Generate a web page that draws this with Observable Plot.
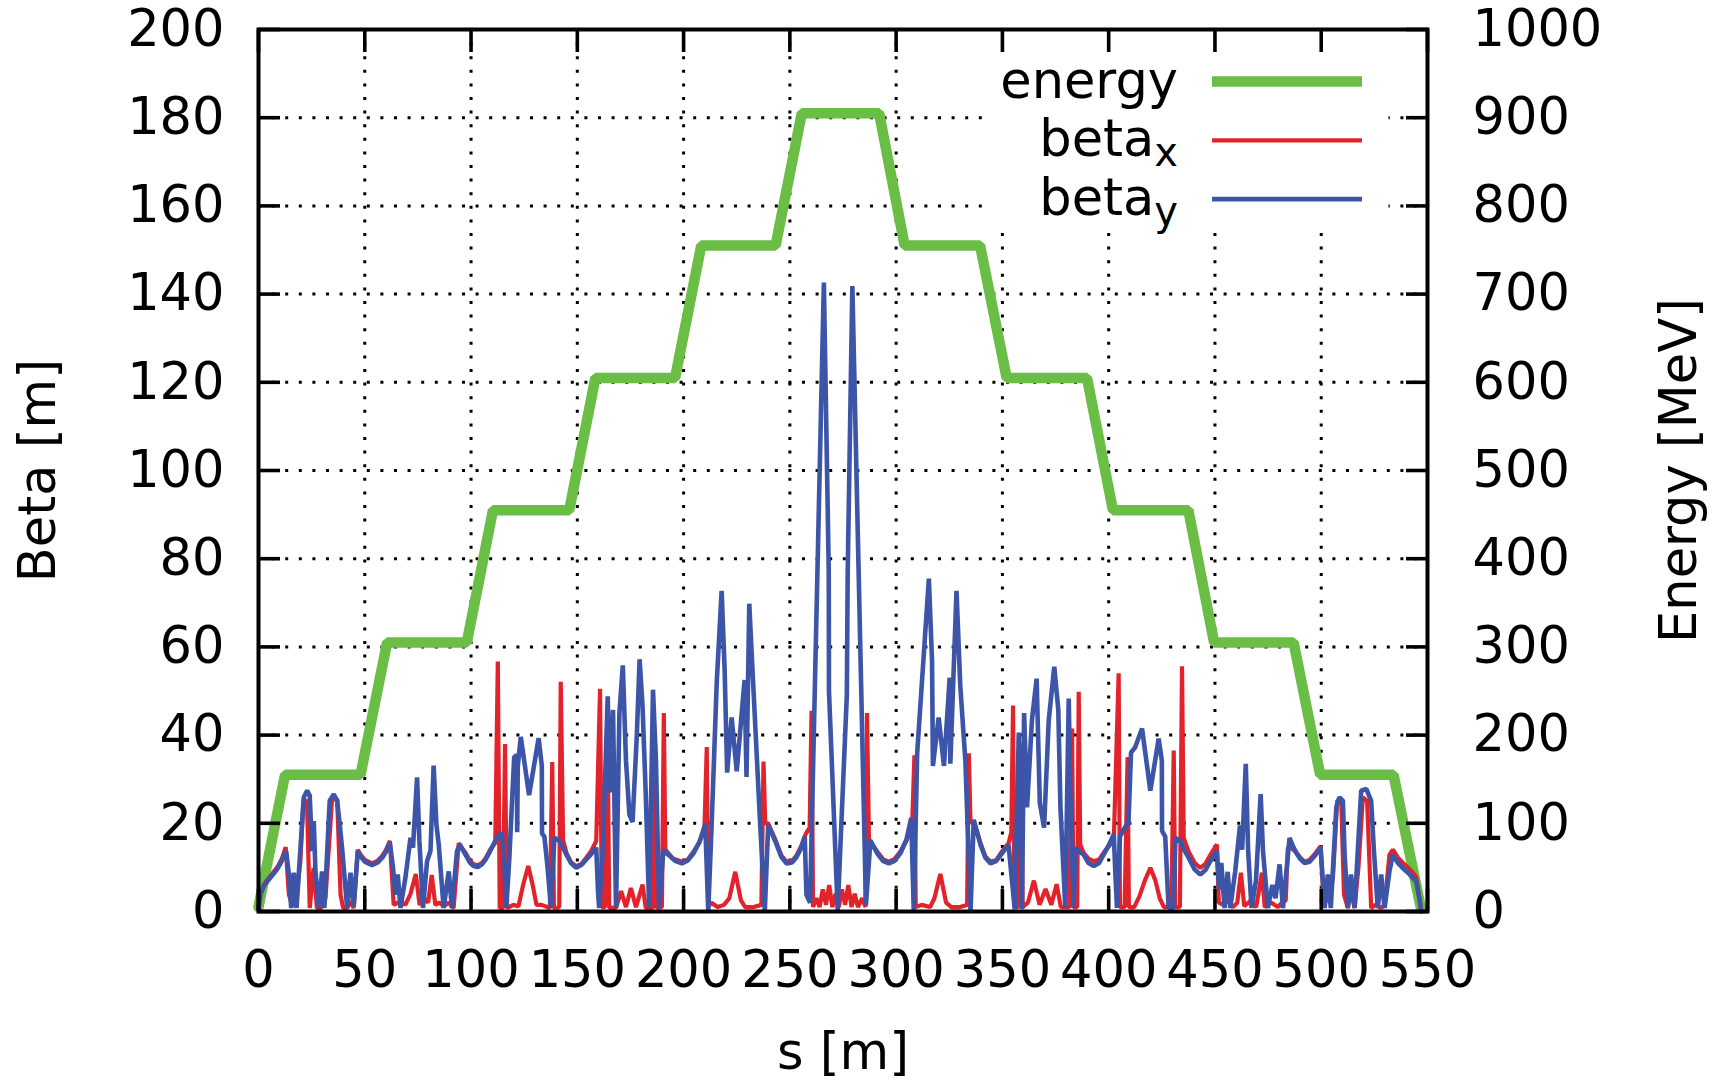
<!DOCTYPE html>
<html>
<head>
<meta charset="utf-8">
<script src="https://cdn.jsdelivr.net/npm/d3@7"></script>
<script src="https://cdn.jsdelivr.net/npm/@observablehq/plot@0.6"></script>
<style>
  html, body { margin: 0; padding: 0; background: #fff; overflow: hidden; }
  #chart { width: 1721px; height: 1082px; }
</style>
</head>
<body>
<div id="chart"></div>
<script>
// ---- axis ticks ----
const sTicks = [0, 50, 100, 150, 200, 250, 300, 350, 400, 450, 500, 550];
const betaTicks = [0, 20, 40, 60, 80, 100, 120, 140, 160, 180, 200];
const energyTicks = [0, 100, 200, 300, 400, 500, 600, 700, 800, 900, 1000];

// ---- beam energy along the machine, [s (m), E (MeV)] ----
const energyPoints = [
  [0, 5], [12.5, 155], [48, 155], [60.5, 305], [98, 305], [110.3, 455], [146.2, 455],
  [158.5, 605], [196, 605], [208.3, 755], [243.3, 755], [255.6, 905], [292, 905],
  [304, 755], [339.5, 755], [352, 605], [389.8, 605], [402, 455], [437.5, 455],
  [449.6, 305], [487, 305], [499.5, 155], [534, 155], [546.8, 5]
];

// ---- horizontal beta function, [s (m), beta_x (m)] ----
const betaXPoints = [
  [0, 0.5], [1, 4], [2.5, 6], [4.1, 7.2], [6.5, 8.6], [8.8, 10], [11, 12], [12.8, 14.6],
  [14.3, 3.8], [15.8, 1.5], [17.4, 1.5], [19.7, 11.4], [21.1, 25.1], [22.8, 25.1], [24.1, 0.8], [25.9, 9.9],
  [27.5, 0.8], [29.5, 0.8], [31.5, 3], [33.1, 14.5], [34.6, 25.5], [37, 25.5], [38.6, 3.8], [39.8, 0.8],
  [41.7, 0.8], [43.3, 2.3], [44.8, 0.8], [46.7, 14],
  [48, 12.9], [50, 11.7], [53.4, 10.9], [56, 11.5], [58.2, 12.6], [60, 14], [61.8, 16],
  [63.6, 1.5], [66.8, 2.3], [69.1, 1.5], [71.5, 4], [74, 8.5], [75.8, 1.5], [78, 3], [79.8, 2],
  [81.5, 8.3], [83.2, 1.5], [85, 2], [87.1, 1.2], [89.5, 2], [91.8, 0.8], [94.2, 15.5],
  [95.5, 14.5], [97.4, 13.3], [99.5, 11.5], [101.2, 10.7], [103.2, 10.5], [105.1, 11], [107, 12.2],
  [109, 14], [111.4, 15.6],
  [112.6, 56.7], [113.5, 0.8], [115, 0.8], [116, 38], [116.8, 0.8], [119.9, 1.5], [122.3, 1.2],
  [124.5, 6], [126.9, 10.3], [129, 6], [130.8, 1.5], [133.2, 1.5], [137.1, 0.8], [138.2, 33.9],
  [139, 0.8], [141.5, 1], [142.2, 52.1], [143.3, 16.2],
  [144.9, 13.3], [147, 11.2], [149.5, 10.3], [152, 10.8], [154.2, 12.2], [156.5, 13.7], [158.9, 16],
  [160.7, 50.5], [161.5, 1], [163, 1], [164.2, 43], [165, 0.8], [168.2, 0.8], [170.6, 4.6],
  [172.9, 1], [175.2, 5.3], [177.6, 1], [180.7, 6.1], [182.2, 0.8], [185.6, 0.8], [186.6, 38],
  [187.4, 0.8], [189.8, 1], [190.7, 45], [191.4, 14],
  [192.2, 13.6], [195, 12], [199.2, 11.3], [202, 11.8], [204.7, 13.6], [207.5, 15.8], [209.8, 18.5],
  [210.9, 37.3], [211.6, 1], [213, 2], [216, 1], [219, 1.5], [221.5, 3], [224.3, 9], [227, 2.5],
  [229, 1], [233, 1], [236.6, 1.5], [237.6, 34], [238.4, 20],
  [239.8, 20], [243, 16.5], [246, 12.7], [248.4, 11.3], [251, 11.5], [253.1, 12.7], [255.5, 15],
  [257.5, 17.6], [259.3, 19],
  [260.2, 45.5], [260.9, 1], [262.5, 3], [264, 1], [265.5, 5], [267, 1.5], [268.5, 6], [270, 1],
  [271.5, 4], [273, 1], [274.5, 5], [276, 1.5], [277.5, 6], [279, 1], [280.5, 4], [282, 1],
  [284, 3], [285.6, 1], [286.3, 45], [287.2, 16.5],
  [289, 15], [291.1, 13.6], [294, 11.8], [296.6, 11.3], [299, 11.8], [302, 13.6], [305, 16.2], [307.5, 19],
  [308.6, 35.4], [309.2, 1], [312, 1.5], [316, 1], [318, 3], [320.8, 8.5], [323.5, 2], [326, 1],
  [330, 1], [333.4, 1.5], [334.2, 35.9], [335, 20],
  [336.5, 20.5], [339.7, 15.5], [342, 12.5], [344.4, 11.3], [347, 11.6], [349.8, 13.6], [352.9, 15.5], [354.2, 18],
  [355, 46.7], [355.6, 1], [357.5, 1], [358.8, 38], [359.5, 1], [362, 2], [364.8, 7], [367.5, 1.5],
  [370.3, 5.1], [373, 1.5], [375.5, 6.2], [377.5, 1], [381.5, 1], [382.8, 41.5], [383.4, 1],
  [385.2, 1], [385.9, 49.8], [386.6, 15.2],
  [388.2, 13.3], [390.5, 12], [393, 11.4], [395.5, 11.8], [397.6, 13.3], [400, 14.8], [402.4, 16],
  [404.7, 54], [405.3, 1], [407.5, 1], [408.9, 35], [409.5, 1], [412, 1], [414.5, 3.5], [417, 7],
  [419.6, 9.9], [422, 7], [424, 3], [426, 1], [429.5, 1], [430.6, 36.5], [431.3, 1], [433.5, 1],
  [434.5, 55.6], [435.3, 16.7],
  [437.6, 13.6], [440.5, 11], [443.1, 9.9], [445.5, 10.8], [447.8, 12.8], [450.9, 15.2],
  [451.8, 2], [454, 1.5], [456, 2.5], [458.5, 1], [460.5, 2], [462.2, 8.8], [463.8, 1.2], [466.8, 2.5],
  [469.4, 1], [472.1, 8.8], [473.4, 1], [476.5, 2], [479.6, 1], [481.5, 2], [483.3, 2.5], [484.3, 14.5],
  [486, 14.3], [488.2, 13.5], [490, 12.3], [492.2, 11.3], [494.5, 11.7], [496.9, 13], [499.7, 14.8],
  [501.3, 1.5], [503.9, 3.8], [505.5, 7.6], [507.5, 25.1], [509.4, 25.5], [510.7, 3.8], [512.5, 0.8],
  [514.1, 4.6], [515.7, 0.8], [517.5, 10], [519.6, 25.9], [521.6, 25.1], [523.5, 0.8], [525.4, 1.5],
  [528.2, 0.8], [529.8, 1.5], [532.1, 12.9],
  [533.7, 14], [536.1, 12.2], [538.5, 11], [540.8, 10], [542.8, 9], [544.7, 7.8], [546.2, 3], [547, 0]
];

// ---- vertical beta function, [s (m), beta_y (m)] ----
const betaYPoints = [
  [0, 0.8], [1, 4], [2.5, 5.8], [4.1, 6.8], [6.5, 8.2], [8.8, 9.6], [11, 11.5], [13, 13.7],
  [14.3, 8.4], [15.4, 0.8], [16.6, 8.8], [17.9, 0.8], [21.3, 25.9], [22.9, 27.4], [24.1, 26.3],
  [25.2, 13.7], [26, 20.5], [26.8, 9.1], [28.4, 0.8], [29.9, 9.1], [31, 0.8], [33.5, 25.1],
  [35.4, 26.6], [37, 25.1], [38.2, 19.8], [39.3, 14.5], [41.7, 0.8], [43.3, 8.8], [44.8, 1.1], [46.7, 13.7],
  [48, 12.5], [50, 11.3], [53.4, 10.5], [56, 11.1], [58.2, 12.2], [60, 13.6], [61.8, 15.6],
  [63.3, 9.9], [64.4, 3.8], [65.5, 8.4], [66.8, 0.8], [69.1, 7.6], [71.5, 16.7], [72.7, 14.5],
  [74.6, 30.4], [75.7, 16], [77.4, 0.8], [79.3, 11.4], [80.9, 13.7], [82.4, 33.1], [83.7, 19.8],
  [84.8, 15.2], [87.1, 0.8], [89.5, 9.1], [91, 0.8], [93.4, 13.7],
  [94.8, 15.2], [95.8, 14.2], [97.4, 12.9], [99.5, 11.1], [101.2, 10.3], [103.2, 10.1], [105.1, 10.7],
  [107, 11.9], [109, 13.7], [112.1, 16.7], [114.5, 17.9],
  [115.5, 12], [116.6, 0.8], [118, 12], [120.3, 35], [121.6, 35.5], [121.7, 18], [122, 33],
  [123.4, 39.6], [127.3, 26.4], [131.8, 39.3], [133.3, 33], [133.4, 17.7], [134.5, 17], [136, 10],
  [137.6, 0.8], [139.2, 16.7], [141.7, 16],
  [144.9, 12.9], [147, 11], [149.5, 9.9], [152, 10.6], [154.2, 11.8], [156.5, 13], [158.9, 14.5],
  [159.8, 4], [160.3, 0.8], [162, 14], [164.3, 48.8], [165.3, 27], [166.8, 45.7], [168.2, 0.8],
  [169.8, 45], [171.4, 55.8], [172.9, 34.2], [174.5, 22], [176, 20.3], [178, 40], [179.3, 57.2],
  [180.7, 46.4], [182.2, 26.6], [183.8, 0.8], [185.6, 50.3], [187, 34], [188.5, 0.8], [190.5, 14],
  [193, 12.8], [196, 11.5], [199.2, 10.9], [202, 11.6], [204.7, 13.2], [207.5, 15.8], [210.2, 19.8],
  [211.6, 0], [213.3, 21], [215.6, 52], [217.9, 72.7], [219.3, 55], [220.5, 31.5], [222.6, 44],
  [225, 31.8], [228.7, 52.5], [229.6, 30.5], [230.9, 69.8], [232.6, 53], [235.9, 21], [238.2, 0], [239.8, 19.6],
  [243, 16.1], [246, 12.4], [248.4, 10.9], [251, 11.1], [253.1, 12.3], [255.2, 14.3], [257, 17],
  [257.8, 3.8], [259.5, 2], [266, 142.6], [268.3, 77], [268.4, 50], [272.5, 0.3], [276.8, 49],
  [277.2, 76.5], [279.4, 141.8], [285.8, 1.5], [287.9, 16.1],
  [291.1, 13.2], [294, 11.4], [296.6, 10.9], [299, 11.4], [302, 13.2], [304.8, 16.2], [307.1, 21.2],
  [308.3, 0], [309.9, 35.9], [315.4, 75.5], [316.9, 56.7], [317.3, 33], [320, 44], [322.5, 33],
  [325.2, 53], [325.5, 33.5], [328.4, 72.7], [330.2, 51], [332.6, 34], [335, 0], [336.5, 20.8],
  [339.7, 15.1], [342, 12.2], [344.4, 10.9], [347, 11.4], [349.8, 13.2], [352.9, 15.1],
  [354.3, 8], [355.8, 0.5], [357.7, 40.6], [359.2, 0.5], [360.2, 45], [361.6, 23.6], [363.9, 43.4],
  [366.1, 52.8], [367.6, 24.6], [369.6, 19], [371.8, 43.4], [374.4, 55.5], [376.3, 45.7], [377.3, 23.6],
  [379.6, 0.8], [381.2, 48.3], [382, 26.6], [383.5, 0.8], [384.3, 14.5],
  [386.5, 13.5], [388.2, 12.9], [390.5, 11], [393, 10.3], [395.5, 11], [397.6, 12.9], [400, 15], [402.4, 17.5],
  [403.2, 8], [403.9, 0.8], [405.3, 17], [407.8, 19.2], [409.3, 20], [410.5, 36], [412.5, 37.3],
  [415.7, 41.5], [419.6, 27.4], [423.5, 39.2], [425, 34.2], [425.1, 18.3], [426.6, 17], [428.2, 0.8],
  [430.5, 0.8], [431.4, 16.7], [433.7, 16],
  [435.5, 14], [437.6, 12.2], [440.5, 9.5], [443.1, 8.4], [445.5, 9.4], [447.8, 11.4], [450.9, 13.7],
  [452, 5], [453, 11], [454.5, 0.8], [456, 9], [457.2, 0.8], [459.5, 9], [461.8, 19.5], [462.8, 14],
  [464.5, 33.5], [465.6, 14], [467.2, 0.8], [469.3, 7], [471.5, 26.6], [472.6, 13.7], [474.9, 0.8],
  [477, 6], [478.5, 3], [480.4, 10.7], [482, 0.8], [485.1, 16.7],
  [486.5, 15], [488.2, 13.3], [490, 12], [492.2, 11], [494.5, 11.3], [496.9, 12.6], [499.7, 14.5],
  [501.6, 0.8], [503.1, 8.4], [504.5, 0.8], [507.1, 23.6], [508.6, 25.9], [510.2, 25.1], [511, 12.9],
  [512.5, 0.8], [514, 8.4], [515.7, 0.8], [518.8, 27.4], [521.2, 27.8], [523.5, 25.1], [524.8, 13.7],
  [526.6, 0.8], [528.2, 8.4], [529.8, 0.8], [532.1, 9.1], [533.7, 12.9],
  [536.1, 11], [538.5, 9.8], [540.8, 8.8], [542.8, 7.8], [544.7, 6.8], [546.5, 2], [547, 0]
];

// ---- key entries ----
const keyLabels = ["energy", "beta", "beta"];
const keySubscripts = ["", "x", "y"];

// ---- styling ----
const MEV_PER_BETA = 5;            // right axis: 1000 MeV over the same height as 200 m
const GREEN = "#6abd45", RED = "#e3232b", BLUE = "#3c55a8";
const W_ENERGY = 10.5, W_BX = 4.2, W_BY = 4.6;
const FONT = 51;
const TICK = 22;
const M = {top: 29, right: 294, bottom: 171, left: 258};
const W = 1721, H = 1082;

const dotted = {stroke: "black", strokeOpacity: 1, strokeWidth: 3, strokeDasharray: "3,10.6"};
const tickStyle = {fill: "none", stroke: "black", strokeWidth: 3.6, tickSize: TICK, label: null};

const chart = Plot.plot({
  width: W, height: H,
  marginTop: M.top, marginRight: M.right, marginBottom: M.bottom, marginLeft: M.left,
  x: {domain: [0, 550]},
  y: {domain: [0, 200]},
  style: {fontFamily: "'DejaVu Sans', sans-serif", fontSize: FONT + "px", color: "black", background: "white"},
  marks: [
    Plot.gridX(sTicks, dotted),
    Plot.gridY(betaTicks, dotted),
    // opaque key background (hides the grid behind the key)
    Plot.frame({fill: "white", stroke: "none",
      insetLeft: 984 - M.left, insetRight: (W - M.right) - 1388, insetTop: 2, insetBottom: (H - M.bottom) - 228}),
    Plot.line(energyPoints, {x: d => d[0], y: d => d[1] / MEV_PER_BETA, stroke: GREEN, strokeWidth: W_ENERGY, strokeLinejoin: "miter"}),
    Plot.line(betaXPoints, {x: d => d[0], y: d => d[1], stroke: RED, strokeWidth: W_BX, strokeLinejoin: "miter"}),
    Plot.line(betaYPoints, {x: d => d[0], y: d => d[1], stroke: BLUE, strokeWidth: W_BY, strokeLinejoin: "miter"}),
    // inward tick marks on all four sides
    Plot.axisY(betaTicks, {...tickStyle, anchor: "left", dx: TICK}),
    Plot.axisY(betaTicks, {...tickStyle, anchor: "right", dx: -TICK}),
    Plot.axisX(sTicks, {...tickStyle, anchor: "bottom", dy: -TICK}),
    Plot.axisX(sTicks, {...tickStyle, anchor: "top", dy: TICK}),
    Plot.frame({stroke: "black", strokeWidth: 4}),
    // tick labels
    Plot.axisY(betaTicks, {anchor: "left", tickSize: 0, tickPadding: 34, label: null}),
    Plot.axisY(energyTicks.map(e => e / MEV_PER_BETA), {anchor: "right", tickSize: 0, tickPadding: 45, label: null,
      tickFormat: v => String(Math.round(v * MEV_PER_BETA))}),
    Plot.axisX(sTicks, {anchor: "bottom", tickSize: 0, tickPadding: 39, label: null}),
    // axis titles
    Plot.text(["s [m]"], {frameAnchor: "bottom", dy: 141, lineAnchor: "middle", textAnchor: "middle", text: d => d}),
    Plot.text(["Beta [m]"], {frameAnchor: "left", dx: -220, rotate: -90, lineAnchor: "middle", textAnchor: "middle", text: d => d}),
    Plot.text(["Energy [MeV]"], {frameAnchor: "right", dx: 252, rotate: -90, lineAnchor: "middle", textAnchor: "middle", text: d => d})
  ]
});

// ---- key: labels right-aligned, line samples to their right ----
const keyColors = [GREEN, RED, BLUE];
const keyWidths = [W_ENERGY, W_BX, W_BY];
const KEY_TEXT_RIGHT = 1178, KEY_LINE_X1 = 1212, KEY_LINE_X2 = 1362;
const KEY_ROW0 = 81.5, KEY_ROW_STEP = 58.8;
const key = d3.select(chart).append("g")
  .attr("font-family", "'DejaVu Sans', sans-serif")
  .attr("font-size", FONT);
keyLabels.forEach((label, i) => {
  const y = KEY_ROW0 + i * KEY_ROW_STEP;
  const t = key.append("text")
    .attr("x", KEY_TEXT_RIGHT).attr("y", y + 16)
    .attr("text-anchor", "end").attr("fill", "black");
  t.append("tspan").text(label);
  if (keySubscripts[i]) {
    t.append("tspan").attr("font-size", 40).attr("dy", 10).text(keySubscripts[i]);
  }
  key.append("line")
    .attr("x1", KEY_LINE_X1).attr("x2", KEY_LINE_X2)
    .attr("y1", y).attr("y2", y)
    .attr("stroke", keyColors[i]).attr("stroke-width", keyWidths[i]);
});

document.getElementById("chart").appendChild(chart);
</script>
</body>
</html>
